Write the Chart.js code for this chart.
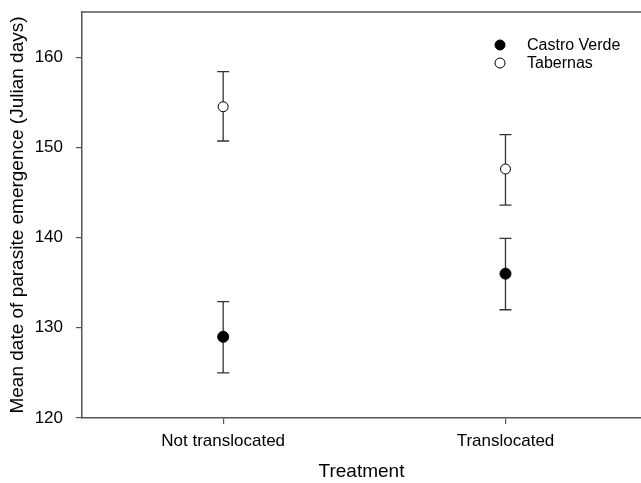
<!DOCTYPE html>
<html>
<head>
<meta charset="utf-8">
<script src="https://cdn.jsdelivr.net/npm/chart.js@4.4.1/dist/chart.umd.min.js"></script>
<style>
  html, body { margin: 0; padding: 0; background: #fff; overflow: hidden; }
  #wrap { width: 641px; height: 483px; }
</style>
</head>
<body>
<div id="wrap"><canvas id="chart" width="641" height="483"></canvas></div>
<script>
/* Données */
const categories = ['Not translocated', 'Translocated'];
const seriesNames = ['Castro Verde', 'Tabernas'];
const castroMean = [129.0, 136.0];
const castroLow = [125.0, 132.0];
const castroHigh = [132.9, 139.9];
const tabernasMean = [154.5, 147.6];
const tabernasLow = [150.7, 143.6];
const tabernasHigh = [158.4, 151.4];
const yTicks = [120, 130, 140, 150, 160];

const FONT = "'Liberation Sans', Arial, sans-serif";
const AXIS_COLOR = '#555';

// points {x: indice de catégorie, y: moyenne}
const toPoints = arr => arr.map((v, i) => ({ x: i, y: v }));

/* ===== Barres d'erreur (dessinées sous les marqueurs) ===== */
const errorBars = {
  id: 'errorBars',
  beforeDatasetsDraw(chart) {
    const { ctx, scales: { x, y } } = chart;
    const sets = [[castroLow, castroHigh], [tabernasLow, tabernasHigh]];
    ctx.save();
    ctx.strokeStyle = '#333';
    ctx.lineWidth = 1.3;
    sets.forEach(([lo, hi]) => {
      categories.forEach((c, i) => {
        const px = x.getPixelForValue(i);
        const yl = y.getPixelForValue(lo[i]);
        const yh = y.getPixelForValue(hi[i]);
        ctx.beginPath();
        ctx.moveTo(px, yl); ctx.lineTo(px, yh);
        ctx.moveTo(px - 6, yl); ctx.lineTo(px + 6, yl);
        ctx.moveTo(px - 6, yh); ctx.lineTo(px + 6, yh);
        ctx.stroke();
      });
    });
    ctx.restore();
  }
};

/* ===== Cadre supérieur + légende dans la zone du graphique ===== */
const frameAndLegend = {
  id: 'frameAndLegend',
  afterDraw(chart) {
    const { ctx, chartArea } = chart;
    ctx.save();
    ctx.strokeStyle = AXIS_COLOR;
    ctx.lineWidth = 1.5;
    ctx.beginPath();
    ctx.moveTo(chartArea.left, chartArea.top);
    ctx.lineTo(chart.width, chartArea.top);
    ctx.stroke();

    const rows = [
      { label: seriesNames[0], fill: '#000', y: 45 },
      { label: seriesNames[1], fill: '#fff', y: 63 },
    ];
    ctx.font = '16px ' + FONT;
    ctx.textBaseline = 'middle';
    ctx.textAlign = 'left';
    rows.forEach(r => {
      ctx.beginPath();
      ctx.arc(500, r.y, 5, 0, Math.PI * 2);
      ctx.fillStyle = r.fill;
      ctx.fill();
      ctx.strokeStyle = '#000';
      ctx.lineWidth = 1;
      ctx.stroke();
      ctx.fillStyle = '#000';
      ctx.fillText(r.label, 527, r.y + 1);
    });
    ctx.restore();
  }
};

new Chart(document.getElementById('chart'), {
  type: 'line',
  data: {
    datasets: [
      {
        label: seriesNames[0],
        data: toPoints(castroMean),
        showLine: false,
        pointRadius: 5.5,
        pointBackgroundColor: '#000',
        pointBorderColor: '#000',
        pointBorderWidth: 1,
      },
      {
        label: seriesNames[1],
        data: toPoints(tabernasMean),
        showLine: false,
        pointRadius: 5,
        pointBackgroundColor: '#fff',
        pointBorderColor: '#000',
        pointBorderWidth: 1,
      }
    ]
  },
  options: {
    responsive: false,
    animation: false,
    layout: { autoPadding: false, padding: { top: 12, right: 0, bottom: 0, left: 0 } },
    plugins: {
      legend: { display: false },
      tooltip: { enabled: false },
    },
    scales: {
      x: {
        type: 'linear',
        min: -0.5,
        max: 1.48,
        afterBuildTicks(s) { s.ticks = categories.map((c, i) => ({ value: i })); },
        grid: { display: true, drawOnChartArea: false, drawTicks: true, tickLength: 6, color: AXIS_COLOR, lineWidth: 1.2 },
        border: { display: true, color: AXIS_COLOR, width: 1.5 },
        ticks: {
          color: '#000', padding: 7, maxRotation: 0, autoSkip: false,
          font: { family: FONT, size: 17 },
          callback: v => categories[v],
        },
        title: { display: true, text: 'Treatment', color: '#000', padding: { top: 10, bottom: 0 }, font: { family: FONT, size: 19 } },
        afterFit(s) { s.height = 65; s.paddingLeft = 0; s.paddingRight = 0; },
      },
      y: {
        min: 120,
        max: 165,
        afterBuildTicks(s) { s.ticks = yTicks.map(v => ({ value: v })); },
        grid: { display: true, drawOnChartArea: false, drawTicks: true, tickLength: 6, color: AXIS_COLOR, lineWidth: 1.2 },
        border: { display: true, color: AXIS_COLOR, width: 1.5 },
        ticks: { color: '#000', padding: 13, font: { family: FONT, size: 17 } },
        title: { display: true, text: 'Mean date of parasite emergence (Julian days)', color: '#000', padding: { top: 6, bottom: 0 }, font: { family: FONT, size: 19 } },
        afterFit(s) { s.width = 82; s.paddingTop = 0; s.paddingBottom = 0; },
      }
    }
  },
  plugins: [errorBars, frameAndLegend]
});
</script>
</body>
</html>
